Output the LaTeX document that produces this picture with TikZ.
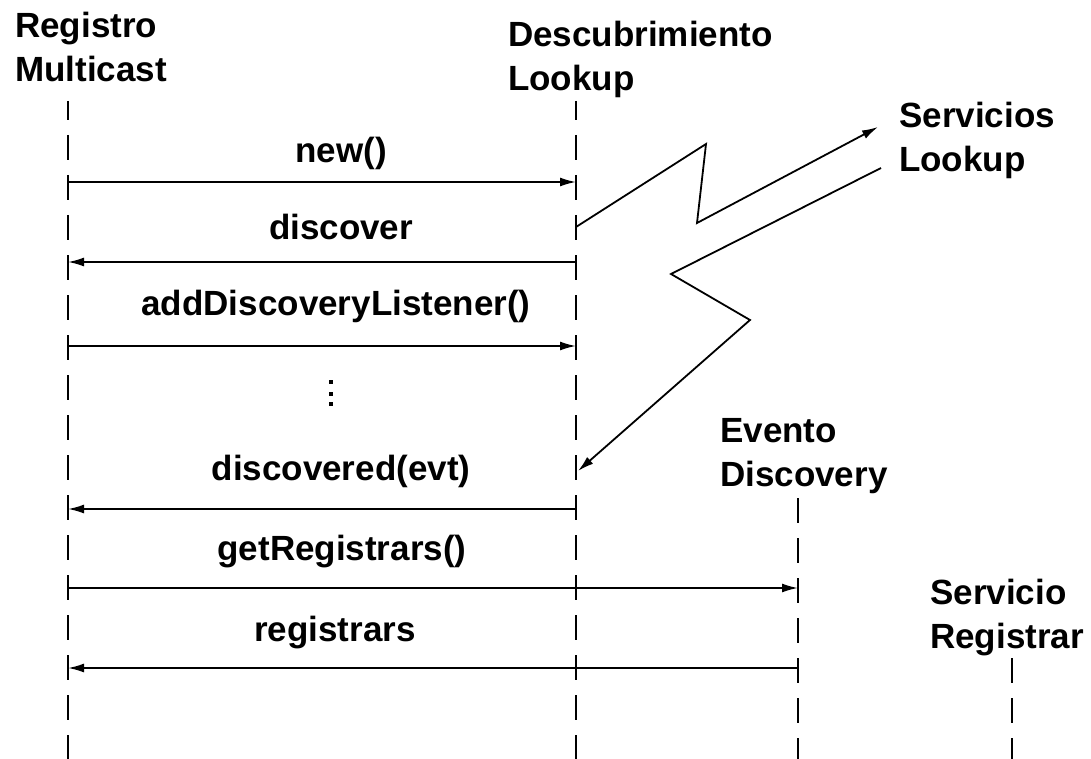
\documentclass[tikz,border=0pt]{standalone}
\usepackage{fontspec}
\setmainfont{Liberation Sans}
\usetikzlibrary{arrows.meta}
\tikzset{
  lbl/.style={inner sep=0pt, font=\fontsize{35}{44}\selectfont\bfseries},
  head/.style={lbl, anchor=base west, align=left},
  msg/.style={lbl, anchor=base},
  lifeline/.style={line width=1.8pt, dash pattern=on 25pt off 15pt},
  call/.style={line width=1.8pt, -{Latex[length=16pt,width=9pt]}},
}
\begin{document}
\begin{tikzpicture}[x=1pt,y=-1pt]
\useasboundingbox[fill=white] (0,0) rectangle (1091,759);

% participants (anchored at the baseline of the second line)
\node[head] (rm)  at (15,82)  {Registro\\Multicast};
\node[head] (dl)  at (508,91) {Descubrimiento\\Lookup};
\node[head] (sl)  at (899,172) {Servicios\\Lookup};
\node[head] (ed)  at (720,486) {Evento\\Discovery};
\node[head] (sr)  at (930,648) {Servicio\\Registrar};

% lifelines
\coordinate (rmTop) at (68,101);  \coordinate (rmBot) at (68,759);
\coordinate (dlTop) at (576,101); \coordinate (dlBot) at (576,759);
\coordinate (edTop) at (798,498); \coordinate (edBot) at (798,759);
\coordinate (srTop) at (1012,658);\coordinate (srBot) at (1012,759);
\draw[lifeline, dash phase=6pt] (rmTop) -- (rmBot);
\draw[lifeline, dash phase=6pt] (dlTop) -- (dlBot);
\draw[lifeline] (edTop) -- (edBot);
\draw[lifeline] (srTop) -- (srBot);

% message end points
\coordinate (rm1) at (68,182);  \coordinate (dl1) at (576,182);
\coordinate (rm2) at (68,262);  \coordinate (dl2) at (576,262);
\coordinate (rm3) at (68,346);  \coordinate (dl3) at (576,346);
\coordinate (rm4) at (68,509);  \coordinate (dl4) at (576,509);
\coordinate (rm5) at (68,588);  \coordinate (ed5) at (798,588);
\coordinate (rm6) at (68,668);  \coordinate (ed6) at (798,668);

% messages
\draw[call] (rm1) -- (dl1);
\node[msg] (m1) at (341,163) {new()};
\draw[call] (dl2) -- (rm2);
\node[msg] (m2) at (341,240) {discover};
\draw[call] (rm3) -- (dl3);
\node[msg] (m3) at (336,315) {addDiscoveryListener()};
\draw[call] (dl4) -- (rm4);
\node[msg] (m4) at (341,480) {discovered(evt)};
\draw[call] (rm5) -- (ed5);
\node[msg] (m5) at (342,560) {getRegistrars()};
\draw[call] (ed6) -- (rm6);
\node[msg] (m6) at (335,641) {registrars};

% elided calls
\fill (329,380) rectangle (333,384);
\fill (329,392) rectangle (333,396);
\fill (329,402) rectangle (333,406);

% multicast request and reply
\coordinate (reqStart) at (576,227);
\coordinate (reqEnd)   at (878,127);
\coordinate (repStart) at (881,168);
\coordinate (repEnd)   at (578,471);
\draw[call, line join=miter] (reqStart) -- (706,144) -- (697,223) -- (reqEnd);
\draw[call, line join=miter] (repStart) -- (671,274) -- (750,320) -- (repEnd);
\end{tikzpicture}
\end{document}
